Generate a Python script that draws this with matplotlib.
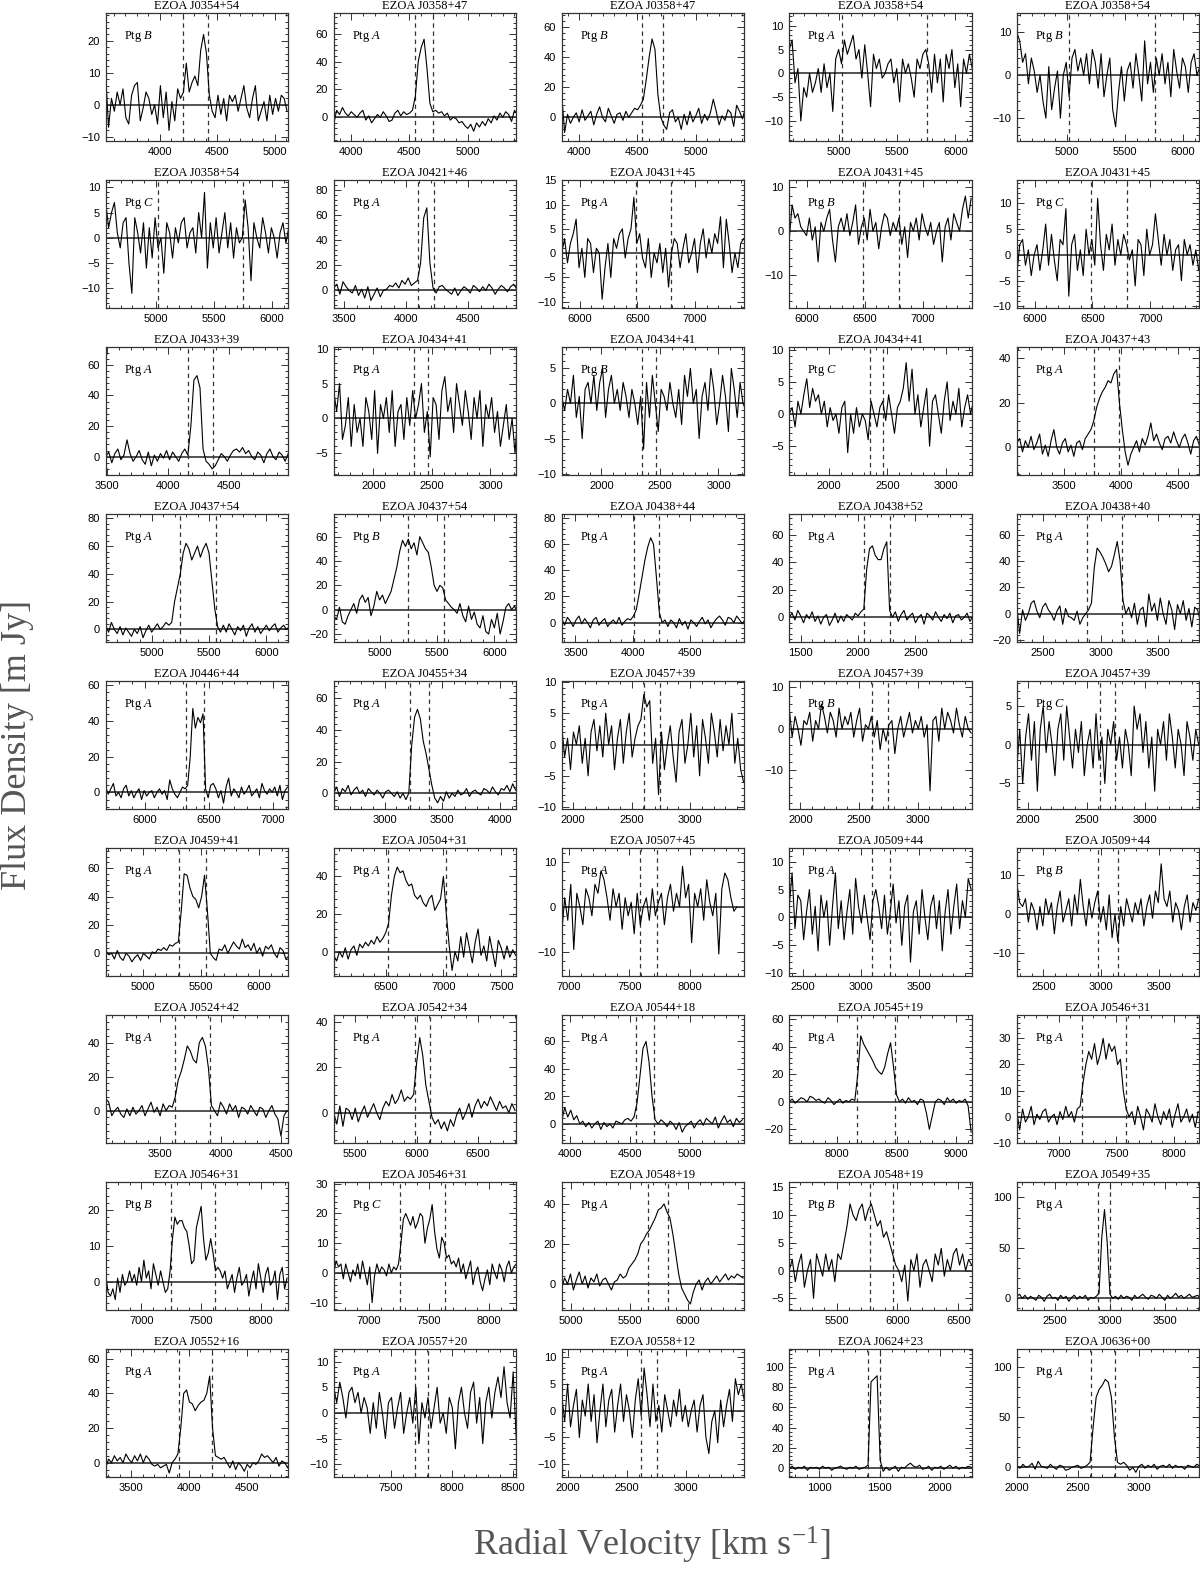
import numpy as np
import matplotlib
matplotlib.use("Agg")
import matplotlib.pyplot as plt
from matplotlib.ticker import MultipleLocator

plt.rcParams['font.family'] = ['Liberation Sans', 'DejaVu Sans']
plt.rcParams['mathtext.fontset'] = 'custom'
plt.rcParams['mathtext.rm'] = 'Liberation Serif'
plt.rcParams['mathtext.it'] = 'Liberation Serif:italic'

# panel info, row by row (5 panels per row)
names = ['J0354+54', 'J0358+47', 'J0358+47', 'J0358+54', 'J0358+54',
         'J0358+54', 'J0421+46', 'J0431+45', 'J0431+45', 'J0431+45',
         'J0433+39', 'J0434+41', 'J0434+41', 'J0434+41', 'J0437+43',
         'J0437+54', 'J0437+54', 'J0438+44', 'J0438+52', 'J0438+40',
         'J0446+44', 'J0455+34', 'J0457+39', 'J0457+39', 'J0457+39',
         'J0459+41', 'J0504+31', 'J0507+45', 'J0509+44', 'J0509+44',
         'J0524+42', 'J0542+34', 'J0544+18', 'J0545+19', 'J0546+31',
         'J0546+31', 'J0546+31', 'J0548+19', 'J0548+19', 'J0549+35',
         'J0552+16', 'J0557+20', 'J0558+12', 'J0624+23', 'J0636+00']

ptg = ['B', 'A', 'B', 'A', 'B',
       'C', 'A', 'A', 'B', 'C',
       'A', 'A', 'B', 'C', 'A',
       'A', 'B', 'A', 'A', 'A',
       'A', 'A', 'A', 'B', 'C',
       'A', 'A', 'A', 'A', 'B',
       'A', 'A', 'A', 'A', 'A',
       'B', 'C', 'A', 'B', 'A',
       'A', 'A', 'A', 'A', 'A']

xlims = [(3530, 5115), (3850, 5415), (3850, 5415), (4570, 6140), (4570, 6140),
         (4570, 6140), (3415, 4885), (5845, 7425), (5845, 7425), (5845, 7425),
         (3490, 4990), (1660, 3220), (1660, 3220), (1660, 3220), (3090, 4690),
         (4600, 6190), (4600, 6190), (3380, 4970), (1400, 2990), (2270, 3860),
         (5695, 7120), (2560, 4140), (1905, 3460), (1905, 3460), (1905, 3460),
         (4680, 6250), (6050, 7630), (6940, 8450), (2380, 3960), (2270, 3850),
         (3050, 4560), (5325, 6810), (3935, 5450), (7600, 9130), (6635, 8220),
         (6700, 8230), (6705, 8225), (4920, 6480), (5110, 6610), (2150, 3815),
         (3280, 4860), (7030, 8530), (1945, 3495), (755, 2260), (2000, 3495)]

ylims = [(-11.3, 28.6), (-17, 74.6), (-15.7, 69), (-14.2, 12.6), (-15.3, 14.4),
         (-13.9, 11.4), (-14, 88), (-11.3, 15), (-17.5, 11.6), (-10.3, 14.5),
         (-12, 71.5), (-8.1, 10.2), (-10.2, 8), (-9.5, 10.4), (-12.4, 45),
         (-9.1, 82.9), (-26.6, 78.4), (-14.9, 83), (-18, 75), (-21.5, 75.7),
         (-9.3, 62.2), (-9.9, 70.7), (-10.3, 10.1), (-19.4, 11.5), (-8.3, 8.2),
         (-16, 74), (-13, 55), (-15.4, 13), (-10.5, 12.4), (-15.9, 17),
         (-19, 56), (-13.3, 42.8), (-13.9, 79), (-30, 63), (-10, 38.8),
         (-7.9, 27.7), (-12.5, 30.5), (-13, 50.8), (-7.1, 15.9), (-11.6, 115),
         (-8.3, 65.5), (-12.5, 12.4), (-12.4, 11.5), (-8.6, 117), (-9.7, 118)]

ysteps = [10, 20, 20, 5, 10,
          5, 20, 5, 10, 5,
          20, 5, 5, 5, 20,
          20, 20, 20, 20, 20,
          20, 20, 5, 10, 5,
          20, 20, 10, 5, 10,
          20, 20, 20, 20, 10,
          10, 10, 20, 5, 50,
          20, 5, 5, 20, 50]

dashes = [(4205, 4415), (4545, 4705), (4535, 4720), (5020, 5755), (5020, 5755),
          (5020, 5755), (4090, 4220), (6485, 6795), (6485, 6795), (6485, 6795),
          (4165, 4375), (2350, 2465), (2350, 2465), (2350, 2465), (3770, 3990),
          (5250, 5565), (5250, 5565), (4010, 4230), (2055, 2275), (2880, 3190),
          (6325, 6465), (3220, 3385), (2610, 2745), (2610, 2745), (2610, 2745),
          (5310, 5540), (6520, 7025), (7585, 7730), (3100, 3250), (2970, 3150),
          (3625, 3915), (5990, 6110), (4550, 4705), (8165, 8490), (7200, 7585),
          (7245, 7615), (7255, 7635), (5655, 5830), (5770, 5960), (2895, 3000),
          (3913, 4196), (7695, 7805), (2620, 2755), (1405, 1500), (2610, 2805)]

# channel width in km/s, first channel at the left axis limit
chan_width = [25, 25, 25, 25, 25,
              25, 25, 25, 25, 25,
              25, 25, 25, 25, 25,
              25, 25, 25, 25, 25,
              20, 25, 25, 25, 25,
              25, 25, 25, 25, 25,
              25, 25, 25, 25, 25,
              20, 20, 25, 25, 25,
              25, 25, 25, 25, 25]

# flux density (mJy), one list per panel
flux_01 = [9, -7, 2, -2, 4, 0, 5, -4, -6, 3, 6, 7, -5, -1, 4, 2, -3, 0, -6, 6,
           -4, 4, -8, 1, -5, 5, 2, 4, 13, 4, 7, 9, 6, 17, 22, 16, 3, -2,
           -4, 3, -3, 2, -5, 3, 1, 3, -2, 2, 6, -1, -4, 2, 6, -5, -2, 1, -5, 3,
           -3, 2, -2, 3, 2, -2]
flux_02 = [-5, 5, 2, 7, 3, 1, 4, 2, 0, 3, 5, -2, 1, -4, -1, 2, 0, 4, 1, -3,
           -2, 3, 5, 1, 4, 2, 3, 5, 15, 40, 50, 56, 35, 10, 4, 5,
           3, 4, 1, 3, -2, 0, -1, -4, -3, -6, -8, -5, -10, -4, -7, -3, -6, -1,
           -4, 1, -2, 3, 0, 4, 2, -3, 5, 2]
flux_03 = [15, -10, 2, -4, 0, 3, -3, 5, -2, 1, 4, -5, 2, 7, 0, -3, 6, 1, -4, 2,
           3, -2, 4, 0, 3, 6, 5, 8, 12, 25, 40, 52, 45, 15, 0, -5,
           -8, 3, 5, -3, 0, -8, 2, -5, 4, -3, 1, 6, -4, 2, -2, 3, 12, 4, -5, 1,
           -2, 5, 3, -6, 8, 4, -1, 6]
flux_04 = [5, 7, -2, 1, -10, -3, -5, 0, -4, -2, 1, -4, 2, -3, 0, -8, 3, 5, 2, 7,
           4, 6, 8, 3, 5, -1, 6, 0, -7, 4, 1, 3, -1, 0, 2, 3, -2, 1, -6, 3,
           0, 2, -1, -5, 3, 1, 4, 5, 2, -4, 4, -2, 3, -6, 4, 1, 5, -3, 2, -7,
           3, 0, 4, 1]
flux_05 = [10, 8, 3, 5, -2, 4, 1, -4, 0, -6, -10, 2, -8, -3, 1, -10, 0, 3, -5, 4,
           6, 1, 4, 0, 5, -2, 6, 3, -3, 5, -5, 0, 4, -8, -12, -4, 2, -6, 1, 3,
           -3, 5, 0, -6, 8, -2, 3, -4, 4, 0, 5, -2, 3, -5, 6, 1, -3, 4, 2, -4,
           3, 5, 0, 2]
flux_06 = [7, 2, 5, 7, 1, -2, 3, 4, -5, -11, 4, 1, -3, 3, -6, 2, -4, 4, -2, 0,
           -7, 3, 1, -4, 2, -1, 3, 4, -2, 1, 2, -3, 5, 0, 9, -6, 3, -2, 4, -3,
           1, 5, -2, 3, -4, 2, -1, 0, 7.5, 2, -8.5, 3, 0, -2, 4, 1, -3, 2, 0, -4,
           1, 3, -1, 2]
flux_07 = [2, 5, -3, 7, 3, 0, -2, 4, -4, 1, -6, 3, -8, -3, 2, -5, 0, 1, 4, 3,
           6, 2, 8, 5, 10, 4, 6, 8, 22, 58, 66, 22, 2,
           -2, 3, 4, 1, -1, -3, 2, -4, 0, 3, 1, -2, 4, 2, -1, 3, 0, 5, 2, -3,
           1, 4, 2, -1, 3, 5, 1]
flux_08 = [0, 3, -2, 2, 4, 7, -3, 1, -5, 3, 2, -4, 1, 0, -9.5, -3, 2, -5, 3, 1,
           4, 5, -1, 3, 5, 11.5, 2, 4, -1, -3, 3, -5, 0, -2, 2, -4, 1, -7, 0, 3,
           2, -3, 1, 4, -2, 0, 3, -4, 2, 5, -1, 3, 0, 4, 2, 7.5, -3, 7, 2, -4,
           0, -3, 2, 3]
flux_09 = [-2, 6, 3, 4, 1, 0, -1, 3, -2, 1, -7, 2, 0, 3, 5, -2, -7, 1, 3, 0,
           4, -1, 2, 6, -3, 1, 3, -2, 5, 0, 2, -4, 1, 4, 3, -1, 2, 0, 3, -3,
           1, -6, 2, 0, 3, -2, 4, 1, -1, 2, -3, 0, 2, -7, 1, 3, -2, 4, 2, 0,
           5, 8, 3, 7.5]
flux_10 = [-4, 2, 3, -2, 1, -4, 0, 2, -3, 1, 6, -2, 4, -1, -5, 3, 2, 9, -8, 2,
           4, -3, 1, -4, 5, 0, 3, -2, 11, 2, -3, 4, 1, 6, -2, 3, 0, 4, 2, -1,
           1, -6, 3, 2, -4, 5, 0, 2, 8, 3, -2, 4, 0, 3, -3, 1, 2, -5, 3, 0,
           2, -2, 1, -3]
flux_11 = [0, 3, -4, 2, 5, -2, 1, 11, 2, -3, 0, 4, -2, -5, 3, -6, 1, -3, 2, -1,
           4, -2, 3, 0, -3, 2, 5, 1, 20, 50, 53, 45, 5, -3, -5, -8,
           -6, -2, 2, 0, -3, 1, 4, 5, 3, 6, 2, 4, 0, -2, 3, 1, -4, 2, 5, 0,
           -2, 3, 1, -3, 2, 0, -5, 1, -2]
flux_12 = [4, 1, 5, -3, -1, 3, -4, 2, -2, 0, -4, 3, 1, -3, 4, -5, 2, 0, 3, -2,
           4, -4, 1, 2, -3, 3, -1, 4, 0, 2, 5, -2, 1, -5.5, 3, 2, -3, 4, 6, 1,
           3, -2, 5, 2, -1, 4, 1, -3, 3, 0, 4, -4, 2, 0, 3, -2, 1, -4, -1, 2,
           -3, 0, -5, 1]
flux_13 = [1, -1, 2, 0, 4, -2, 1, -5, 2, 3, 0, 4, -1, 3, 5, -2, 2, 4, 0, 2,
           -1, 3, 1, -2, 2, 0, -3, 1, -6.5, 3, -2, 4, 0, -4, 2, 1, -1, 3, 0, -2,
           2, -3, 4, 1, 5, 0, 2, -5, 1, 3, -1, 5, 2, -3, 0, 4, 1, -4, 5, 2,
           -2, 3, 0, -1]
flux_14 = [0, 1, -2, 2, 0, 3, 5.5, 1, 4, 2, 3, 0, 2, -2, 1, -1, 0, -3, 1, 2,
           -6, 0, -3, 1, -2, 0, -1, -4, 2, 0, -2, 1, 2, -1, 3, 0, -3, 1, 2, 4,
           8, 2, 7, 0, 3, -2, 1, 4, -5, 2, 3, 0, -3, 2, 5, -1, 2, 0, 4, -2,
           1, 3, 0, 2]
flux_15 = [2, 4, -2, 3, 0, 5, -1, 2, 6, -3, 1, -4, 3, 8, 0, -3, 2, 4, -2, 1,
           -4, 2, 3, -1, 4, 6, 8, 12, 18, 22, 25, 27, 30, 29, 33, 35, 20, 8, -2, -8, -3,
           0, 3, -2, 4, 1, 5, 11, 3, 6, 2, -1, 4, 5, 2, 7, 3, 0, 4, 6, 2,
           -3, 3, 5, 1]
flux_16 = [3, -2, 5, 0, -3, 2, -4, 1, -2, -5, 0, -3, 2, -6, -1, 3, -2, 1, 4, 0,
           2, 5, 3, 5, 20, 30, 40, 55, 62, 58, 50, 55, 60, 52, 58, 62, 55, 35, 15, 2, -2,
           3, -2, 4, 0, -4, 2, -1, 3, -5, 1, 4, -2, 2, -3, 0, 3, -1, 2, 4, -2,
           1, 3, 0, 2]
flux_17 = [-5, -8, 2, -10, -12, -5, 0, 5, -3, 8, 12, 6, 10, -5, 3, 15, 8, 12, 5, 10,
           15, 25, 35, 48, 57, 52, 58, 50, 55, 45, 60, 55, 50, 47, 35, 20, 15, 20, 18,
           8, 5, 2, 0, -3, 5, -5, -10, 3, -8, -2, -12, -15, -5, -18, -20, -8, -15,
           -3, -20, -10, 2, 5, 0, 3, -2]
flux_18 = [3, -2, 4, 1, -3, 2, 5, -1, 3, 0, -4, 2, 4, -2, 1, 3, -3, 0, 2, -1,
           4, -2, 1, 3, 2, 5, 10, 22, 35, 48, 58, 65, 60, 35, 8, 0, 2,
           -3, 2, 0, -4, 3, -2, 1, -5, 2, 0, -3, 1, 4, -1, 2, -4, 0, 3, 5, 2,
           -2, 4, 3, 0, 5, 2, -1, 3]
flux_19 = [0, 3, -2, 5, 1, -4, 2, -1, 4, -3, 1, -5, 0, 2, -6, -2, 3, -4, 1, -3,
           2, 0, -2, 3, 1, 4, 6, 35, 50, 52, 45, 42, 42, 50, 55, 5, 0,
           4, -3, 2, 5, -2, 1, 3, -4, 0, 2, -5, 3, 1, -2, 4, 0, -3, 2, -1, 3,
           -4, 1, 2, -2, 0, 3, -3, 1]
flux_20 = [5, -15, 3, -5, 0, 8, 10, 2, -3, 5, 8, 3, 0, -5, 2, 6, -8, 4, -2, -3,
           -5, 2, -8, -3, 0, 3, 8, 35, 50, 47, 43, 38, 32, 36, 45, 55, 40, 10, 0,
           5, -3, 8, -8, 3, 5, -10, 15, 2, 8, -5, 12, 0, -8, 10, 3, -12, 7, 0, 10,
           -5, 4, -10, 5, 3, -6]
flux_21 = [3, -1, 2, 5, -2, 0, -3, 2, 4, -2, 1, -3, 0, 2, -4, 1, -2, 0, 1, -3,
           0, 2, -1, 1, -4, 7, 2, -1, -3, 0, 3, 2, 4, 20, 47, 36, 42, 39, 44, 2, -3,
           4, 5, 2, -3, 1, -6, 3, 8, -2, 2, 0, -3, 3, -1, 1, 4, -2, 0, 2, -3,
           5, 1, -1, 2, 0, 3, -2, 4, -4, 1, 3]
flux_22 = [0, 4, -2, 3, 1, 5, -1, 2, 4, 0, 2, -2, 3, 1, -1, 2, 0, -3, 1, 2,
           0, -2, 1, -3, 0, -4, 0, 30, 48, 53, 47, 33, 25, 15, 5, -3, -6,
           -2, -5, 1, -3, 0, -2, 2, -1, 0, 3, -2, 1, 2, 0, -1, 3, 2, 0, 4, 1,
           -1, 3, 2, 5, 1, 6, 2]
flux_23 = [3, -2, 1, -4, 2, 0, 3, -3, 1, -5, 2, 4, -1, 3, -2, 5, 0, 3, -4, 1,
           4, -3, 2, 5, -2, 1, 3, 4, 8, 6, 7, -3, 1, -8, 2, -4, 0, 3, -2, -6,
           2, 4, -3, 0, 5, -2, 3, -5, 4, 1, -3, 5, 2, -2, 4, -1, 3, 0, 5, -3,
           1, -4, -6]
flux_24 = [5, -2, 3, 0, -4, 2, 1, 4, -3, 2, 0, 6, 3, -1, 4, 2, -2, 5, 0, 3,
           1, 4, -2, 2, 5, -3, 1, 0, 3, -2, 2, -5, 0, -3, 1, 2, -6, 0, 3, -2,
           1, 4, -1, 2, 0, 3, -2, 1, -15, 2, 3, -3, 5, 0, 4, 2, -1, 5, 1, -2,
           3, 0, -1]
flux_25 = [-3, 2, -5, 1, 4, -2, 3, -6, 2, 5, -1, 3, 0, -4, 2, 4, -2, 5, 1, -3,
           2, -1, 3, -4, 0, 2, -3, 4, -2, 1, -5, 2, 0, 3, -2, 1, -3, 2, 0, -4,
           5, 2, 4, -1, 3, -3, 1, -6, 2, 0, 3, -2, 4, 1, -3, 2, 0, -4, 3, 1,
           -2, 2, 0]
flux_26 = [2, -1, 0, -4, 2, -3, -5, 0, -2, -6, -3, -1, -5, 0, -2, -4, 1, 0, 3, 2,
           4, 2, 6, 5, 7, 8, 30, 56, 55, 46, 40, 38, 32, 40, 55, 30, 0, -3,
           -5, 3, 2, 6, 0, 4, 8, 5, 3, 10, 4, 6, 2, 7, 0, 4, -2, 5, 3, 6,
           0, -3, 4, 2, -4, -2]
flux_27 = [-2, -5, 0, -3, 2, -4, 1, 3, -2, 4, 2, 5, 3, 6, 4, 8, 5, 7,
           10, 15, 30, 40, 45, 42, 43, 38, 35, 36, 30, 28, 30, 26, 24, 28, 30, 22,
           25, 28, 40, 20, 3, -10,
           0, -5, 8, -3, 10, 2, -6, 5, 12, -2, 3, -5, 8, 0, -8, 6, 2, -4, 3, -3,
           1, -2]
flux_28 = [-6, 2, -3, 5, -9.5, 3, 0, -4, 4, 2, -2, 5, 3, 8, 6, 2, -3, 4, 0, 3,
           -5, 2, -2, 1, -6, 3, -4, 0, 2, -3, 4, -2, 1, 3, -4, 2, 5, -1, 3, 0,
           9, 2, 5, -8, 3, 0, 4, -3, 6, 1, -2, 3, -10.5, 4, 7.5, 6, 2, -1, 0]
flux_29 = [2, 8, -2, 4, 3, -4, 1, 5, -3, 2, -6, 4, 0, 3, -5, 2, 8, -2, 3, -4,
           1, 5, -3, 7, 2, -1, 4, 0, -4, 3, 5, 2, -2, 4, -3, 1, 6, -1, 3, -5,
           2, 4, -8, 1, 3, -3, 5, 0, -4, 2, 4, -2, 3, -6, 1, 5, -3, 2, 6, -2,
           3, 0, 7, 5]
flux_30 = [8, 3, 2, 4, -2, 3, 1, -4, 2, -3, 4, 0, 3, -5, 2, 6, -2, 1, 4, -3,
           5, 0, 9, 2, -3, 4, -1, 3, 6, -2, 2, -4, 5, -6, 0, -7, 2, -3, 4, 1,
           -2, 3, 0, 4, -3, 2, 5, -1, 6, 3, 13, 4, 2, 6, -2, 3, 1, -4, 2, 5,
           -2, 3, 1, 4]
flux_31 = [7, 5, -3, 0, 2, -2, -4, 1, -3, 2, -2, 0, 3, -3, 1, 5, -1, 2, -3, 4,
           0, 3, 2, 8, 18, 23, 30, 38, 35, 30, 28, 40, 43, 38, 25, 3, 0,
           -3, 5, 2, -2, 4, 0, 3, -4, 2, 1, -2, 3, 0, -3, 2, 1, -4, 0, 3, -2,
           -5, -15, -3, 0]
flux_32 = [0, -5, 3, -6, 2, 1, -3, 2, -4, 0, 3, -2, 1, 4, 0, -3, 2, 5, 3, 8,
           4, 6, 10, 5, 7, 6, 8, 22, 33, 25, 12, 5, -2,
           -5, -3, -7, -4, -8, -3, -6, -1, 2, -3, 0, 4, -2, 3, 6, 2, 5, 3, 7, 4,
           1, 5, 2, 3, 0, 4, 1]
flux_33 = [2, 12, 5, 10, 3, 6, 0, 2, -2, 1, -3, 0, 2, -4, 1, -2, 0, -3, 2, 1,
           0, 3, 4, 2, 5, 15, 35, 55, 60, 45, 20, 3, 0,
           3, 1, -2, 2, 0, -4, 1, -6, -2, 0, 2, -3, 1, 3, -1, 4, 2, 0, 5, -3,
           2, 6, 1, 3, -2, 4, 1, 3]
flux_34 = [0, 2, -1, 1, 3, 2, 0, 4, 3, 1, 2, 0, -1, 3, 1, -2, 0, 2, -1, 1,
           0, 2, 1, 20, 48, 42, 38, 34, 30, 25, 22, 20, 25, 35, 43, 25, 5, 0,
           2, -1, 3, 0, 1, -2, 2, 1, -8, -20, -10, 0, 2, 1, -2, 3, 0, 2, -1, 1,
           0, 2, -3, -22]
flux_35 = [2, -5, 3, -2, 0, 4, -3, 1, -1, 2, 3, -2, 0, 1, -3, 2, -1, 4, 0, 2,
           -2, 3, 4, 13, 20, 25, 22, 28, 20, 24, 30, 22, 28, 25, 27, 20, 22, 10, 3, 0,
           2, -3, 4, 0, -5, 3, 1, -2, 5, 0, -3, 2, -1, 3, -4, 1, 5, -2, 0, 3,
           -2, 1, -4, 2]
flux_36 = [2, -3, -4, -2, -5, 1, -3, 2, -1, 0, 3, 0, 2, -1, 4, 0, 6, 1, 3, -2,
           5, 2, -1, 3, 0, -3, -2, 3, 12, 18, 16, 17, 17, 15, 14, 10, 5, 6, 15, 18,
           21, 12, 6, 8, 12, 8, 3, 4, 3,
           1, 3, -2, 0, 2, -3, 1, 4, -1, 0, 2, -4, 0, 3, -2, 5, 1, -3, 2, 4,
           -1, 0, 3, -5, 2, 4, -2, 1]
flux_37 = [0, 4, 2, 3, -2, 3, 0, -3, 1, -1, 3, -2, 4, 0, -4, 2, -10, -1, 3, 0,
           2, 1, -1, 3, 0, 2, 1, 3, 10, 18, 20, 18, 16, 19, 15, 17, 20, 19, 10, 15,
           18, 23, 14, 8, 5, 12, 10, 5, 6, 3,
           4, 2, 5, 0, 3, -2, 1, 4, -4, 0, 2, -3, -6, -2, 1, -4, 3, 0, -2, 3,
           1, -3, 2, 4, 0, 2, 3]
flux_38 = [-2, 3, 0, 5, -3, 2, 6, 0, 4, -2, 3, 1, 5, -1, 2, 3, 0, -3, 1,
           2, 5, 3, 4, 8, 10, 12, 15, 20, 22, 25, 27, 30, 33, 37, 38, 40, 36, 33,
           25, 15, 5, -2, -5, -8, -10, -4,
           0, 2, -3, 1, 3, 0, 2, 4, 1, 3, 5, 2, 4, 3, 5, 4, 3]
flux_39 = [0, 2, -2, 1, 3, -3, 0, 2, -5, 3, 1, -1, 3, 0, 2, -2, 3,
           2, 5, 8, 12, 10, 9, 11, 12, 9, 11, 12, 10, 8, 9, 6, 7, 5, 3, 1, 0,
           -2, 1, -5.5, 2, 0, 3, -3, 1, 2, 0, -2, 3, 1, 4, -1, 2, 0, 3, 4, 1,
           3, 0, 2, 1]
flux_40 = [2, 4, 0, 3, -1, 2, 0, -2, 3, 1, -3, 2, 4, 0, 1, -2, 3, 0, 2, -3,
           1, 3, -1, 2, 0, 3, -2, 1, 0, 2, 5, 60, 88, 55, 4,
           0, 2, -1, 3, 0, 2, 1, -2, 3, 0, 2, 4, 1, -1, 3, 2, 0, 4, 1, -2,
           3, 0, 2, 5, 1, 3, 0, 2, 4, 1, 2, 3, 0]
flux_41 = [-3, 2, 0, 4, 1, 3, 0, 5, 2, 0, 4, 1, 5, 0, 4, 2, -1, -2, -1, -3,
           -2, -1, -6, 0, 2, 5, 20, 40, 42, 35, 34, 30, 33, 35, 36, 40, 50, 20, 4, 3,
           2, 3, 0, -3, 1, -4, 0, -2, -5, -1, -3, 0, -1, 1, 5, 3, 4, 2, 0, 3,
           -2, 1, 0, -3, 2]
flux_42 = [5, 2, 6, 3, -1, 4, 5, 2, 4, 0, 3, 1, -4, 2, -3, 4, 0, -5, 2, 3,
           -3, 1, 4, -4, 0, 3, -2, 5, -6, 2, -1, 3, -3, 1, 5, -2, 0, -4, 3, 1,
           -7, 2, 5, 0, -3, 4, 6, -2, 3, -6, 2, 5, -1, 4, 7, 3, 9, 2, -1, 8, -5]
flux_43 = [3, -2, 5, -3, 1, 4, -5, 2, -1, 5, -2, 3, -6, 0, 5, -3, 2, 4, -4, 1,
           5, -2, 3, 0, -5, 2, 6, -1, 8, 3, -3, 5, -2, 1, -4, 3, 0, -3, 2, -1,
           4, -2, 1, -3, 0, 2, -4, 1, 3, -5, -8, -2, 0, -6, 2, -3, 1, 4, -2, 6,
           3, 5, 2, 4]
flux_44 = [0, 2, -1, 1, 0, 2, -2, 1, 0, 1, -1, 2, 0, 1, -2, 0, 1, 2, 0, -1,
           1, 0, 2, -1, 0, 1, 3, 85, 88, 91, 8, -3,
           1, -2, 0, 2, -3, 1, 0, 3, 5, 2, 1, 3, -1, 0, 2, -2, 1, 0, 2, -1,
           1, 3, 0, 2, -1, 1, 0, 2, 1]
flux_45 = [2, -1, 3, 0, 1, 4, -2, 6, 1, 0, -1, 3, 0, -2, 2, 1, -3, -2, 0, 1,
           2, -1, 0, 2, 5, 40, 70, 78, 82, 88, 85, 70, 30, 5, 3,
           5, 2, -3, 0, -5, 1, 3, -1, 2, 0, 3, -2, 1, 2, 0, 3, -1, 2, 0, 1,
           -2, 2, 1, 0, 3, 1]

fluxes = [flux_01, flux_02, flux_03, flux_04, flux_05, flux_06, flux_07, flux_08,
          flux_09, flux_10, flux_11, flux_12, flux_13, flux_14, flux_15, flux_16,
          flux_17, flux_18, flux_19, flux_20, flux_21, flux_22, flux_23, flux_24,
          flux_25, flux_26, flux_27, flux_28, flux_29, flux_30, flux_31, flux_32,
          flux_33, flux_34, flux_35, flux_36, flux_37, flux_38, flux_39, flux_40,
          flux_41, flux_42, flux_43, flux_44, flux_45]

W, H = 1200, 1570
fig = plt.figure(figsize=(W / 100, H / 100), dpi=100)

col_left = [105.7, 333.7, 561.7, 789.2, 1016.8]
box_w, box_h = 182.5, 127.7

for k in range(45):
    r, c = divmod(k, 5)
    top = 13.3 + 167 * r
    ax = fig.add_axes([col_left[c] / W, 1 - (top + box_h) / H, box_w / W, box_h / H])

    f = np.array(fluxes[k], dtype=float)
    v = xlims[k][0] + chan_width[k] * np.arange(len(f))

    ax.axhline(0, color='#444444', lw=1.3, zorder=1)
    for d in dashes[k]:
        ax.axvline(d, color='#333333', lw=0.9, ls=(0, (3.5, 3)), zorder=1)
    ax.plot(v, f, color='black', lw=0.8, zorder=2)

    ax.set_xlim(*xlims[k])
    ax.set_ylim(*ylims[k])

    ax.xaxis.set_major_locator(MultipleLocator(500))
    ax.xaxis.set_minor_locator(MultipleLocator(100))
    st = ysteps[k]
    ax.yaxis.set_major_locator(MultipleLocator(st))
    ax.yaxis.set_minor_locator(MultipleLocator(st / 5 if st != 5 else 1))
    ax.tick_params(which='both', direction='in', top=True, right=True,
                   labelsize=8, color='#333333', width=0.7)
    ax.tick_params(which='major', length=5, pad=4)
    ax.tick_params(which='minor', length=2.5)
    for s in ax.spines.values():
        s.set_linewidth(0.9)
        s.set_color('#333333')

    ax.set_title('EZOA ' + names[k], fontsize=9, family='Liberation Serif', pad=3)
    ax.text(0.1, 0.82, 'Ptg $\\mathit{' + ptg[k] + '}$', transform=ax.transAxes,
            fontsize=9, family='Liberation Serif', va='center')

fig.text(652 / W, 1 - 1545 / H, 'Radial Velocity [km s$^{\\mathregular{-1}}$]',
         ha='center', va='center', fontsize=26, family='Liberation Serif', color='#555555')
fig.text(18 / W, 1 - 745 / H, 'Flux Density [m Jy]', rotation=90,
         ha='center', va='center', fontsize=26, family='Liberation Serif', color='#555555')

fig.savefig('out.png', dpi=100)
